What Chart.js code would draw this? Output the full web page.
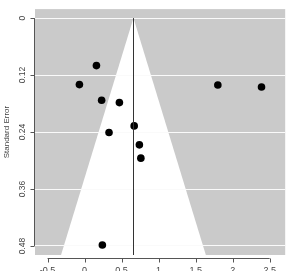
<!DOCTYPE html>
<html>
<head>
<meta charset="utf-8">
<script src="https://cdn.jsdelivr.net/npm/chart.js@4"></script>
<style>
  html, body { margin: 0; padding: 0; background: #fff; }
  #wrap { width: 289px; height: 271px; }
</style>
</head>
<body>
<div id="wrap"><canvas id="funnel"></canvas></div>
<script>
// study estimates and their standard errors
const effects = [0.16, -0.07, 0.23, 0.47, 0.67, 0.33, 0.74, 0.76, 1.80, 2.39, 0.24];
const stdErrors = [0.100, 0.140, 0.173, 0.178, 0.227, 0.241, 0.267, 0.295, 0.141, 0.145, 0.478];
const xTicks = [-0.5, 0, 0.5, 1, 1.5, 2, 2.5];
const yTicks = [0, 0.12, 0.24, 0.36, 0.48];
const pooled = 0.66;
const zCrit = 1.96;

const points = effects.map(function (e, i) {
  return { x: e, y: stdErrors[i] };
});

// grey panel + white funnel, drawn under everything else
const funnelBg = {
  id: "funnelBg",
  beforeDraw: function (chart) {
    const ctx = chart.ctx;
    const area = chart.chartArea;
    const xs = chart.scales.x;
    const ys = chart.scales.y;
    ctx.save();
    ctx.fillStyle = "#cacaca";
    ctx.fillRect(area.left, area.top, area.right - area.left, area.bottom - area.top);

    const seBot = ys.max;
    ctx.beginPath();
    ctx.rect(area.left, area.top, area.right - area.left, area.bottom - area.top);
    ctx.clip();
    ctx.beginPath();
    ctx.moveTo(xs.getPixelForValue(pooled - zCrit * seBot), ys.getPixelForValue(seBot));
    ctx.lineTo(xs.getPixelForValue(pooled), ys.getPixelForValue(0));
    ctx.lineTo(xs.getPixelForValue(pooled + zCrit * seBot), ys.getPixelForValue(seBot));
    ctx.closePath();
    ctx.fillStyle = "#ffffff";
    ctx.fill();
    ctx.restore();
  },
  afterDatasetsDraw: function (chart) {
    const ctx = chart.ctx;
    const xs = chart.scales.x;
    const ys = chart.scales.y;
    ctx.save();
    ctx.strokeStyle = "#333";
    ctx.lineWidth = 1;
    // reference line
    const px = Math.round(xs.getPixelForValue(pooled)) + 0.5;
    ctx.beginPath();
    ctx.moveTo(px, ys.getPixelForValue(0));
    ctx.lineTo(px, chart.chartArea.bottom);
    ctx.stroke();

    // R style axes
    ctx.strokeStyle = "#555";
    const axY = chart.chartArea.bottom + 3.5;
    ctx.beginPath();
    ctx.moveTo(xs.getPixelForValue(xTicks[0]), axY);
    ctx.lineTo(xs.getPixelForValue(xTicks[xTicks.length - 1]), axY);
    xTicks.forEach(function (t) {
      const tx = Math.round(xs.getPixelForValue(t)) + 0.5;
      ctx.moveTo(tx, axY);
      ctx.lineTo(tx, axY + 4);
    });
    const axX = chart.chartArea.left - 0.5;
    ctx.moveTo(axX, ys.getPixelForValue(yTicks[0]));
    ctx.lineTo(axX, ys.getPixelForValue(yTicks[yTicks.length - 1]));
    yTicks.forEach(function (t) {
      const ty = Math.round(ys.getPixelForValue(t)) + 0.5;
      ctx.moveTo(axX, ty);
      ctx.lineTo(axX - 4, ty);
    });
    ctx.stroke();
    ctx.restore();
  }
};

const ctx1 = document.getElementById("funnel").getContext("2d");

const funnelChart = new Chart(ctx1, {
  type: "scatter",
  data: {
    datasets: [
      {
        label: "studies",
        data: points,
        backgroundColor: "#000",
        borderColor: "#000",
        borderWidth: 0,
        pointRadius: 3.8,
        pointHoverRadius: 3.8,
      },
    ],
  },
  options: {
    responsive: true,
    maintainAspectRatio: false,
    animation: false,
    layout: { padding: { top: 9, right: 1, left: 0, bottom: 0 } },
    plugins: {
      legend: { display: false },
      tooltip: { enabled: false },
    },
    scales: {
      x: {
        type: "linear",
        min: -0.67,
        max: 2.71,
        afterBuildTicks: function (s) {
          s.ticks = xTicks.map(function (v) { return { value: v }; });
        },
        afterFit: function (s) { s.height = 16; },
        grid: { display: false, drawTicks: false },
        border: { display: false },
        ticks: {
          padding: 10,
          color: "#444",
          font: { family: "Liberation Sans", size: 9 },
          maxRotation: 0,
          autoSkip: false,
          callback: function (v) { return String(v); },
        },
      },
      y: {
        type: "linear",
        reverse: true,
        min: -0.019,
        max: 0.499,
        afterBuildTicks: function (s) {
          s.ticks = yTicks.map(function (v) { return { value: v }; });
        },
        afterFit: function (s) { s.width = 35; },
        grid: { color: "#fafafa", lineWidth: 1, drawTicks: false },
        border: { display: false },
        title: {
          display: true,
          text: "Standard Error",
          color: "#444",
          font: { family: "Liberation Sans", size: 8 },
          padding: { top: 2, bottom: 0 },
        },
        ticks: {
          minRotation: 90,
          maxRotation: 90,
          crossAlign: "center",
          padding: 4,
          color: "#444",
          font: { family: "Liberation Sans", size: 8.5 },
          autoSkip: false,
          callback: function (v) { return String(v); },
        },
      },
    },
  },
  plugins: [funnelBg],
});
</script>
</body>
</html>
